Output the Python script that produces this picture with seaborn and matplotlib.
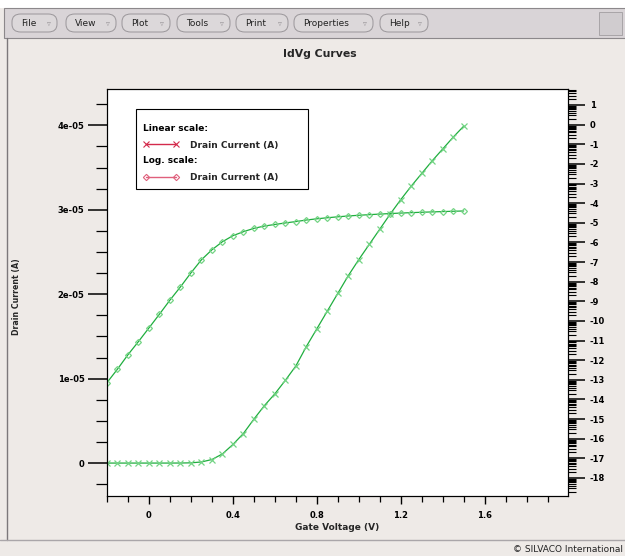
import numpy as np
import seaborn as sns
import matplotlib.pyplot as plt
from matplotlib.ticker import MultipleLocator, FuncFormatter, LogLocator, NullFormatter
from matplotlib.patches import Rectangle, FancyBboxPatch
from matplotlib.lines import Line2D
from matplotlib.text import Text
from matplotlib.legend_handler import HandlerBase

# gate voltage sweep (V) and drain current (A)
gate_voltage = [-0.20, -0.15, -0.10, -0.05, 0.00, 0.05, 0.10, 0.15, 0.20, 0.25,
                0.30, 0.35, 0.40, 0.45, 0.50, 0.55, 0.60, 0.65, 0.70, 0.75,
                0.80, 0.85, 0.90, 0.95, 1.00, 1.05, 1.10, 1.15, 1.20, 1.25,
                1.30, 1.35, 1.40, 1.45, 1.50]
drain_current = [7.2e-14, 3.5e-13, 1.9e-12, 8.9e-12, 4.4e-11, 2.2e-10, 1.15e-9, 5.4e-9, 2.8e-8, 1.3e-7,
                 4.2e-7, 1.08e-6, 2.2e-6, 3.5e-6, 5.2e-6, 6.8e-6, 8.2e-6, 9.8e-6, 1.15e-5, 1.38e-5,
                 1.59e-5, 1.80e-5, 2.01e-5, 2.22e-5, 2.41e-5, 2.59e-5, 2.77e-5, 2.95e-5, 3.12e-5, 3.28e-5,
                 3.43e-5, 3.58e-5, 3.72e-5, 3.86e-5, 3.99e-5]

menu_items = ["File", "View", "Plot", "Tools", "Print", "Properties", "Help"]
menu_spans = [(12, 57), (66, 116), (122, 170), (177, 230), (236, 288), (294, 373), (380, 428)]

BG = "#eeeae7"
BAR = "#d9d4d7"
LINE = "#1fae3e"
MARK = "#74d485"

W, H = 625, 556


def fx(x):
    return x / W


def fy(y):
    return 1 - y / H


class HeaderHandler(HandlerBase):
    # draws a plain text line in place of a legend handle
    def create_artists(self, legend, orig_handle, xdescent, ydescent,
                       width, height, fontsize, trans):
        t = Text(-xdescent, -ydescent + height / 2, orig_handle.get_text(),
                 ha="left", va="center", fontsize=fontsize, fontweight="bold",
                 color="black", transform=trans)
        return [t]


sns.set_theme(style="ticks")
plt.rcParams["font.family"] = ["DejaVu Sans"]
plt.rcParams["font.weight"] = "bold"

fig = plt.figure(figsize=(6.25, 5.56), dpi=100, facecolor=BG)

# window chrome
fig.add_artist(Rectangle((0, fy(8)), 1, 8 / H, transform=fig.transFigure,
                         facecolor="white", edgecolor="none"))
fig.add_artist(Rectangle((fx(4), fy(38)), 1, 30 / H, transform=fig.transFigure,
                         facecolor=BAR, edgecolor="#8c888b", linewidth=0.8))
for name, (x0, x1) in zip(menu_items, menu_spans):
    fig.add_artist(FancyBboxPatch((fx(x0), fy(32)), (x1 - x0) / W, 18 / H,
                                  boxstyle="round,pad=0,rounding_size=0.014",
                                  transform=fig.transFigure, facecolor="#dcd8da",
                                  edgecolor="#9a969a", linewidth=0.7))
    fig.text(fx(x0 + 9), fy(23), name, ha="left", va="center", fontsize=6.5,
             fontweight="normal", color="#222222")
    fig.text(fx(x1 - 6), fy(23), "\u25bf", ha="right", va="center", fontsize=5.5,
             fontweight="normal", color="#9a969a")
fig.add_artist(Rectangle((fx(599), fy(35)), 23 / W, 23 / H, transform=fig.transFigure,
                         facecolor="#d0cccf", edgecolor="#a8a4a7", linewidth=0.7))
fig.add_artist(Line2D([fx(7), fx(7)], [fy(38), fy(540)], transform=fig.transFigure,
                      color="#7c787b", linewidth=1.0))
fig.add_artist(Line2D([0, 1], [fy(540), fy(540)], transform=fig.transFigure,
                      color="#aaa6a9", linewidth=1.0))
fig.text(fx(320), fy(54), "IdVg Curves", ha="center", va="center", fontsize=7.8,
         fontweight="bold")
fig.text(fx(623), fy(549), "\u00a9 SILVACO International", ha="right", va="center",
         fontsize=6.5, fontweight="normal", color="#222222")

ax = fig.add_axes([107 / W, 1 - 496 / H, 461 / W, 407 / H])
ax.set_facecolor("white")

sns.lineplot(x=gate_voltage, y=drain_current, ax=ax, color=LINE, linewidth=0.9,
             marker="x", markersize=4, markeredgecolor=MARK, markeredgewidth=0.9,
             legend=False)

ax2 = ax.twinx()
ax2.set_yscale("log")
sns.lineplot(x=gate_voltage, y=drain_current, ax=ax2, color=LINE, linewidth=0.9,
             marker="D", markersize=3.0, markerfacecolor="none", markeredgecolor=MARK,
             markeredgewidth=0.9, legend=False)

ax.set_xlim(-0.2, 1.997)
ax.set_ylim(-0.39e-5, 4.43e-5)
ax2.set_ylim(10 ** -18.92, 10 ** 1.815)

ax.xaxis.set_major_locator(MultipleLocator(0.4))
ax.xaxis.set_minor_locator(MultipleLocator(0.1))
ax.xaxis.set_major_formatter(FuncFormatter(lambda v, p: "0" if abs(v) < 1e-9 else f"{v:.1f}"))
ax.yaxis.set_major_locator(MultipleLocator(1e-5))
ax.yaxis.set_minor_locator(MultipleLocator(0.25e-5))
ax.yaxis.set_major_formatter(FuncFormatter(lambda v, p: "0" if abs(v) < 1e-12 else f"{v:.0e}"))

ax2.yaxis.set_major_locator(LogLocator(base=10, numticks=40))
ax2.yaxis.set_minor_locator(LogLocator(base=10, subs=np.arange(2, 10), numticks=40))
ax2.yaxis.set_major_formatter(FuncFormatter(lambda v, p: f"{np.log10(v):.0f}"))
ax2.yaxis.set_minor_formatter(NullFormatter())

ax.xaxis.set_ticks_position("bottom")
ax.yaxis.set_ticks_position("left")
ax.tick_params(axis="x", which="major", direction="out", length=5.8, width=1.0,
               pad=5, labelsize=6, colors="black")
ax.tick_params(axis="x", which="minor", direction="out", length=4.3, width=0.9, colors="black")
ax.tick_params(axis="y", which="major", direction="out", length=13.7, width=1.1,
               pad=2.5, labelsize=6, colors="black")
ax.tick_params(axis="y", which="minor", direction="out", length=7.9, width=0.9, colors="black")
ax2.tick_params(axis="y", which="major", direction="out", length=12.2, width=1.1,
                pad=3.5, labelsize=6, colors="black")
ax2.tick_params(axis="y", which="minor", direction="out", length=5.8, width=0.8, colors="black")

for a in (ax, ax2):
    for s in a.spines.values():
        s.set_color("black")
        s.set_linewidth(0.8)
        s.set_visible(True)

ax.set_xlabel("Gate Voltage (V)", fontsize=6.5, fontweight="bold")
ax.xaxis.set_label_coords(0.5, -0.066)
ax.set_ylabel("Drain Current (A)", fontsize=5.7, fontweight="bold")
ax.yaxis.set_label_coords(-0.187, 0.49)
ax2.set_ylabel("")

# legend: same red styling as the original plotter
handles = [Text(text="Linear scale:"),
           Line2D([], [], color="#d42a4c", linewidth=1.0, marker="x", markersize=4,
                  markeredgewidth=0.8),
           Text(text="Log. scale:"),
           Line2D([], [], color="#e0607c", linewidth=1.0, marker="D", markersize=3.2,
                  markerfacecolor="none", markeredgewidth=0.8)]
labels = ["", "Drain Current (A)" + " " * 7, "", "Drain Current (A)" + " " * 7]
leg = ax2.legend(handles, labels, handler_map={Text: HeaderHandler()},
                 loc="upper left", bbox_to_anchor=(0.0629, 0.951), borderaxespad=0,
                 fontsize=6.5, numpoints=2, handlelength=3.9, handletextpad=1.3,
                 borderpad=0.8, labelspacing=0.8, title=" ", title_fontsize=1,
                 frameon=True, fancybox=False,
                 framealpha=1, facecolor="white", edgecolor="black")
leg.get_frame().set_linewidth(0.8)
for t in leg.get_texts():
    t.set_fontweight("bold")

fig.savefig("out.png", dpi=100, facecolor=BG)
